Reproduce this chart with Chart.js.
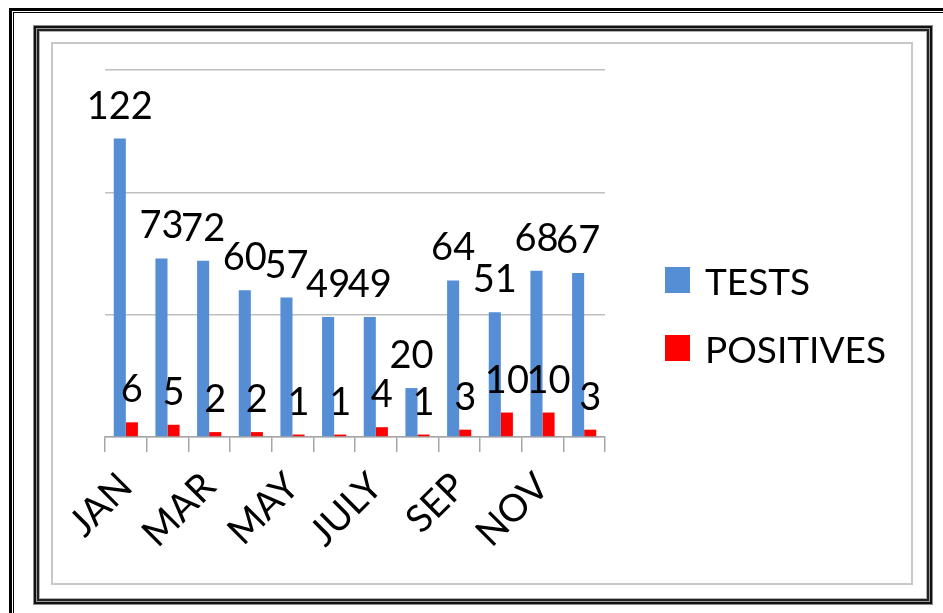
<!DOCTYPE html>
<html>
<head>
<meta charset="utf-8">
<title>Tests and positives by month</title>
<script src="https://cdn.jsdelivr.net/npm/chart.js@4.4.1/dist/chart.umd.min.js"></script>
<style>
    html, body { margin: 0; padding: 0; background: #fff; }
    #page { position: relative; width: 943px; height: 613px; overflow: hidden; font-family: Lato, sans-serif; }
    /* outer black double line, runs off the right and bottom edges */
    #outer1 { position: absolute; left: 9px; top: 8px; width: 1000px; height: 700px; border-left: 3px solid #000; border-top: 3px solid #000; }
    #outer2 { position: absolute; left: 13px; top: 12px; width: 1000px; height: 700px; border-left: 1px solid #000; border-top: 1px solid #000; }
    /* inner frame made of several grey / black lines */
    #inner { position: absolute; left: 33px; top: 25px; width: 898px; height: 578px; border: 1px solid #8a8a8a; }
    #inner > div { position: absolute; left: 0; top: 0; right: 0; bottom: 0; border: 2px solid #111; }
    #inner > div > div { position: absolute; left: 0; top: 0; right: 0; bottom: 0; border: 1px solid #9a9a9a; }
    #inner > div > div > div { position: absolute; left: 0; top: 0; right: 0; bottom: 0; border: 2px solid #222; }
    #inner > div > div > div > div { position: absolute; left: 0; top: 0; right: 0; bottom: 0; border: 1px solid #b0b0b0; }
    /* chart panel */
    #panel { position: absolute; left: 51px; top: 42px; width: 858px; height: 539px; border: 2px solid #c8c8c8; }
    #chart { position: absolute; left: 0; top: 0; }
    #legend { position: absolute; left: 665px; top: 262px; }
    .item { display: flex; align-items: center; height: 36px; margin-bottom: 32px; font-size: 37px; line-height: 37px; color: #000; }
    .box { width: 25px; height: 26px; margin-right: 15px; }
</style>
</head>
<body>
<div id="page">
    <div id="outer1"></div>
    <div id="outer2"></div>
    <div id="inner"><div><div><div><div></div></div></div></div></div>
    <div id="panel"></div>
    <canvas id="chart" width="943" height="613"></canvas>
    <div id="legend"></div>
</div>
<script>
/* Months on the x axis */
const months = ['JAN', 'FEB', 'MAR', 'APR', 'MAY', 'JUNE', 'JULY', 'AUG', 'SEP', 'OCT', 'NOV', 'DEC'];

/* Series values */
const tests = [122, 73, 72, 60, 57, 49, 49, 20, 64, 51, 68, 67];
const positives = [6, 5, 2, 2, 1, 1, 4, 1, 3, 10, 10, 3];

/* Value axis */
const yMax = 150;
const yStep = 50;

/* Draw the value above every bar */
const barLabels = {
    id: 'barLabels',
    afterDatasetsDraw(chart) {
        const ctx = chart.ctx;
        ctx.save();
        ctx.font = '38px Lato';
        ctx.fillStyle = '#000';
        ctx.textAlign = 'center';
        ctx.textBaseline = 'alphabetic';
        chart.data.datasets.forEach((ds, i) => {
            chart.getDatasetMeta(i).data.forEach((bar, j) => {
                ctx.fillText(String(ds.data[j]), bar.x, bar.y - 20);
            });
        });
        ctx.restore();
    }
};

/* Legend built from the datasets */
function buildLegend(chart) {
    const legend = document.getElementById('legend');
    chart.data.datasets.forEach(ds => {
        const item = document.createElement('div');
        item.className = 'item';
        const box = document.createElement('span');
        box.className = 'box';
        box.style.background = ds.backgroundColor;
        const txt = document.createElement('span');
        txt.textContent = ds.label;
        item.appendChild(box);
        item.appendChild(txt);
        legend.appendChild(item);
    });
}

function init() {
    const ctx = document.getElementById('chart').getContext('2d');
    const chart = new Chart(ctx, {
        type: 'bar',
        data: {
            labels: months,
            datasets: [
                { label: 'TESTS', data: tests, backgroundColor: '#558ed5' },
                { label: 'POSITIVES', data: positives, backgroundColor: '#ff0000' }
            ]
        },
        options: {
            responsive: false,
            animation: false,
            datasets: { bar: { categoryPercentage: 0.58, barPercentage: 1.0 } },
            layout: { padding: { left: 105, top: 70, right: 338, bottom: 26 } },
            plugins: { legend: { display: false }, tooltip: { enabled: false } },
            scales: {
                x: {
                    grid: { offset: true, drawOnChartArea: false, drawTicks: true, tickLength: 15, color: '#a6a6a6', lineWidth: 1.5 },
                    border: { display: true, color: '#a6a6a6', width: 1.5 },
                    ticks: {
                        autoSkip: false,
                        minRotation: 45,
                        maxRotation: 45,
                        padding: 12,
                        color: '#000',
                        font: { family: 'Lato', size: 38 },
                        callback(v, i) { return i % 2 === 0 ? this.getLabelForValue(v) : ''; }
                    },
                    afterFit(scale) { scale.height = 150; }
                },
                y: {
                    min: 0,
                    max: yMax,
                    ticks: { stepSize: yStep, display: false },
                    grid: { color: '#bfbfbf', lineWidth: 1.5, drawTicks: false },
                    border: { display: false },
                    afterFit(scale) { scale.width = 0; }
                }
            }
        },
        plugins: [barLabels]
    });
    buildLegend(chart);
}

document.fonts.load('36px Lato').then(init, init);
</script>
</body>
</html>
